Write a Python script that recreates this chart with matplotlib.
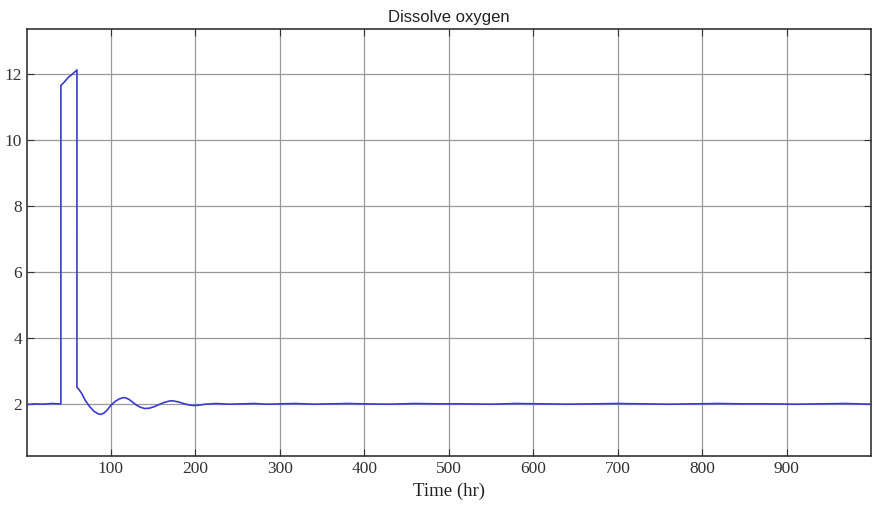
# Dissolve oxygen response over time
import matplotlib.pyplot as plt

time_hr = [1, 10, 20, 30, 40, 41, 41.01, 45, 50, 55, 60, 60.01, 62, 66, 70, 75, 80, 85, 88,
           92, 96, 100, 105, 110, 115, 118, 122, 126, 130, 135, 140, 146, 152, 158, 164, 170,
           174, 180, 186, 192, 198, 204, 212, 225, 240, 255, 270, 285, 300, 320, 340, 360,
           380, 400, 430, 460, 490, 520, 550, 580, 610, 640, 670, 700, 730, 760, 790, 820,
           850, 880, 910, 940, 970, 1000]
oxygen = [1.98, 2.0, 1.99, 2.01, 2.0, 2.0, 11.65, 11.75, 11.9, 12.0, 12.12, 2.5, 2.45, 2.3,
          2.1, 1.92, 1.78, 1.7, 1.68, 1.72, 1.82, 1.95, 2.07, 2.15, 2.19, 2.18, 2.13, 2.05,
          1.97, 1.9, 1.86, 1.87, 1.92, 1.99, 2.05, 2.09, 2.09, 2.06, 2.01, 1.97, 1.95, 1.96,
          1.99, 2.01, 1.99, 2.0, 2.01, 1.99, 2.0, 2.01, 1.99, 2.0, 2.01, 2.0, 1.99, 2.01,
          2.0, 2.0, 1.99, 2.01, 2.0, 1.99, 2.0, 2.01, 2.0, 1.99, 2.0, 2.01, 2.0, 2.0, 1.99,
          2.0, 2.01, 1.99]

x_ticks = [100, 200, 300, 400, 500, 600, 700, 800, 900]
y_ticks = [2, 4, 6, 8, 10, 12]

fig = plt.figure(figsize=(8.74, 5.05), dpi=100)
ax = fig.add_axes([0.031, 0.097, 0.9656, 0.8456])

ax.plot(time_hr, oxygen, color='#3a3ad2', linewidth=1.2)

ax.set_xlim(1, 1000)
ax.set_ylim(0.42, 13.36)
ax.set_xticks(x_ticks)
ax.set_yticks(y_ticks)
ax.grid(True, color='#9a9a9a', linewidth=0.9)
ax.tick_params(direction='in', top=True, right=True, length=5, color='#333333')
for lab in ax.get_xticklabels() + ax.get_yticklabels():
    lab.set_family('Liberation Serif')
    lab.set_fontsize(12.5)
    lab.set_color('#333333')
for s in ax.spines.values():
    s.set_color('#333333')
    s.set_linewidth(1.2)

ax.set_title('Dissolve oxygen', family='Liberation Sans', fontsize=12, color='#222222', pad=5)
ax.set_xlabel('Time (hr)', family='Liberation Serif', fontsize=13.5, color='#222222', labelpad=4)

fig.savefig('out.png', dpi=100)
